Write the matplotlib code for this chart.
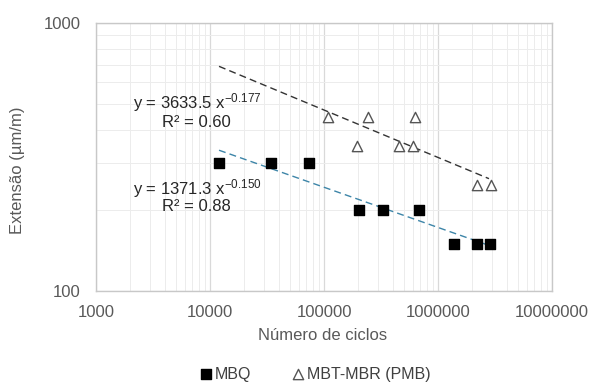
import matplotlib.pyplot as plt
import numpy as np
from matplotlib.ticker import FixedLocator, FuncFormatter, NullFormatter

plt.rcParams['font.family'] = ['Liberation Sans', 'DejaVu Sans']
plt.rcParams['mathtext.fontset'] = 'custom'
plt.rcParams['mathtext.rm'] = 'Liberation Sans'
plt.rcParams['mathtext.it'] = 'Liberation Sans'

# MBQ data
mbq_ciclos = [12000, 34000, 74000, 203000, 330000, 680000, 1380000, 2200000, 2860000]
mbq_ext = [300, 300, 300, 200, 200, 200, 150, 150, 150]

# MBT-MBR (PMB) data
pmb_ciclos = [108000, 243000, 628000, 195000, 455000, 604000, 2200000, 2920000]
pmb_ext = [446, 446, 446, 347, 347, 347, 249, 249]

# trend lines (power fits)
mbq_a, mbq_b = 1371.3, -0.150
pmb_a, pmb_b = 3633.5, -0.177
trend_x = [12000, 2800000]

fig = plt.figure(figsize=(5.9, 3.83), dpi=100)
ax = fig.add_axes([96 / 590, 1 - 291 / 383, 456 / 590, 268 / 383])

ax.set_xscale('log')
ax.set_yscale('log')
ax.set_xlim(1000, 1e7)
ax.set_ylim(100, 1000)

ax.grid(True, which='major', color='#d9d9d9', linewidth=0.9)
ax.grid(True, which='minor', color='#ececec', linewidth=0.7)
ax.set_axisbelow(True)

tx = np.geomspace(trend_x[0], trend_x[1], 50)
ax.plot(tx, pmb_a * tx ** pmb_b, linestyle=(0, (5, 3)), color='#333333', linewidth=1.0)
ax.plot(tx, mbq_a * tx ** mbq_b, linestyle=(0, (5, 3)), color='#3d85a8', linewidth=1.0)

ax.scatter(mbq_ciclos, mbq_ext, marker='s', s=45, color='black', label='MBQ', zorder=3)
ax.scatter(pmb_ciclos, pmb_ext, marker='^', s=55, facecolor='white', edgecolor='#555555',
           linewidth=1.0, label='MBT-MBR (PMB)', zorder=3)

eq_style = dict(fontsize=12, color='#262626', va='center')
ax.text(2112, 503, r'y = 3633.5 x$^{-0.177}$', **eq_style)
ax.text(3793, 427, 'R² = 0.60', **eq_style)
ax.text(2112, 242, r'y = 1371.3 x$^{-0.150}$', **eq_style)
ax.text(3793, 206, 'R² = 0.88', **eq_style)

ax.xaxis.set_major_locator(FixedLocator([1e3, 1e4, 1e5, 1e6, 1e7]))
ax.xaxis.set_major_formatter(FuncFormatter(lambda v, p: '%d' % round(v)))
ax.xaxis.set_minor_formatter(NullFormatter())
ax.yaxis.set_major_locator(FixedLocator([100, 1000]))
ax.yaxis.set_major_formatter(FuncFormatter(lambda v, p: '%d' % round(v)))
ax.yaxis.set_minor_formatter(NullFormatter())
ax.tick_params(which='both', length=0, labelsize=12, colors='#595959')
ax.tick_params(axis='y', pad=11)
ax.tick_params(axis='x', pad=10)

for s in ax.spines.values():
    s.set_color('#c8c8c8')
    s.set_linewidth(1.0)

fig.text(323 / 590, 1 - 335 / 383, 'Número de ciclos', fontsize=12, color='#595959',
         ha='center', va='center')
fig.text(18 / 590, 1 - 170 / 383, 'Extensão (µm/m)', fontsize=12, color='#595959',
         ha='center', va='center', rotation=90)

fig.legend(loc='center', bbox_to_anchor=(0.535, 1 - 374 / 383), ncol=2, frameon=False,
           fontsize=11.5, markerscale=1.0, handlelength=0.7, handletextpad=0.2,
           columnspacing=2.6, labelcolor='#404040')

fig.savefig('out.png', dpi=100, facecolor='white')
